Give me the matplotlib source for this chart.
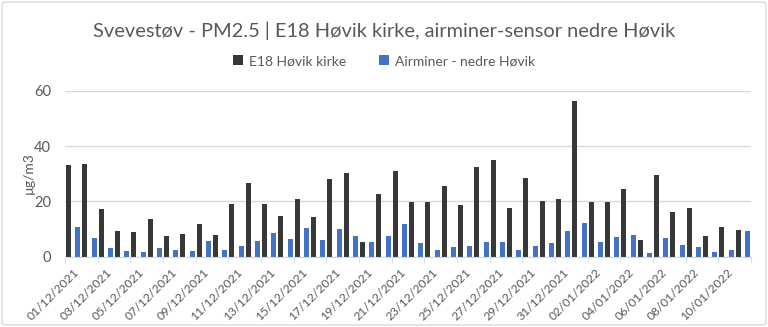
import datetime as dt

import matplotlib

matplotlib.use("Agg")
import matplotlib.pyplot as plt
import numpy as np
from matplotlib.patches import FancyBboxPatch

# daglige middelverdier PM2.5 (µg/m3), 01/12/2021 - 11/01/2022
start = dt.date(2021, 12, 1)
n_days = 42
dates = [start + dt.timedelta(days=i) for i in range(n_days)]
date_labels = [d.strftime("%d/%m/%Y") for d in dates]

e18_hovik = [
    33.0, 33.6, 17.1, 9.4, 8.9, 13.7, 7.6, 8.1, 11.9, 7.8,
    19.0, 26.5, 18.9, 14.8, 20.7, 14.2, 28.2, 30.2, 5.3, 22.5,
    30.8, 19.8, 19.9, 25.4, 18.8, 32.4, 34.9, 17.6, 28.4, 20.0,
    20.7, 56.4, 19.9, 19.9, 24.3, 5.9, 29.5, 16.3, 17.7, 7.6,
    10.6, 9.5,
]
airminer = [
    10.7, 6.6, 3.0, 2.0, 1.7, 3.0, 2.3, 2.0, 5.8, 2.3,
    4.0, 5.5, 8.6, 6.5, 10.4, 5.9, 10.0, 7.5, 5.3, 7.5,
    11.8, 4.9, 2.3, 3.4, 3.9, 5.4, 5.4, 2.3, 3.7, 4.8,
    9.3, 12.2, 5.4, 7.2, 7.7, 1.2, 6.7, 4.3, 3.4, 1.8,
    2.3, 9.3,
]

title = "Svevestøv - PM2.5 | E18 Høvik kirke, airminer-sensor nedre Høvik"
series_names = ["E18 Høvik kirke", "Airminer - nedre Høvik"]
ylabel = "µg/m3"
yticks = [0, 20, 40, 60]

DARK = "#383838"
BLUE = "#4472C4"
TEXT = "#595959"
GRID = "#D9D9D9"

plt.rcParams["font.family"] = ["Lato", "DejaVu Sans"]

W, H = 768, 327
fig = plt.figure(figsize=(W / 100, H / 100), dpi=100)

# ramme rundt diagrammet
fig.patches.append(FancyBboxPatch(
    (2 / W, 2 / H), 1 - 4 / W, 1 - 4 / H,
    boxstyle="round,pad=0,rounding_size=0.006",
    transform=fig.transFigure, facecolor="white", edgecolor=GRID, linewidth=1.0, zorder=-1,
))

ax = fig.add_axes([65 / W, (H - 256.7) / H, 686 / W, 166 / H])
x = np.arange(n_days)
w = 0.31
ax.bar(x - 0.28, e18_hovik, width=w, color=DARK, label=series_names[0], zorder=3)
ax.bar(x + 0.28, airminer, width=w, color=BLUE, label=series_names[1], zorder=3)

ax.set_xlim(-0.5, n_days - 0.5)
ax.set_ylim(0, 60)
ax.set_yticks(yticks)
ax.tick_params(axis="y", length=0, labelsize=10.5, labelcolor=TEXT, pad=10)
ax.yaxis.grid(True, color=GRID, linewidth=1.0, zorder=0)
for s in ["top", "right", "left"]:
    ax.spines[s].set_visible(False)
ax.spines["bottom"].set_color(GRID)
ax.spines["bottom"].set_zorder(4)

ax.set_xticks(x[::2])
ax.set_xticklabels(date_labels[::2], rotation=45, ha="right", rotation_mode="anchor",
                   fontsize=8.8, color=TEXT)
ax.tick_params(axis="x", which="major", length=0, pad=7)
ax.set_xticks(np.arange(-0.5, n_days, 2), minor=True)
ax.tick_params(axis="x", which="minor", length=4, color=GRID)

fig.text(29 / W, 1 - 173 / H, ylabel, rotation=90, ha="center", va="center",
         fontsize=10, color=TEXT)

fig.text(0.5, 1 - 31 / H, title, ha="center", va="center", fontsize=14.4, color=TEXT)
fig.legend(loc="center", bbox_to_anchor=(0.5, 1 - 61 / H), ncol=2, frameon=False,
           fontsize=10, labelcolor=TEXT, handlelength=0.7, handleheight=0.7,
           handletextpad=0.4, columnspacing=2.4)

fig.savefig("out.png", dpi=100)
